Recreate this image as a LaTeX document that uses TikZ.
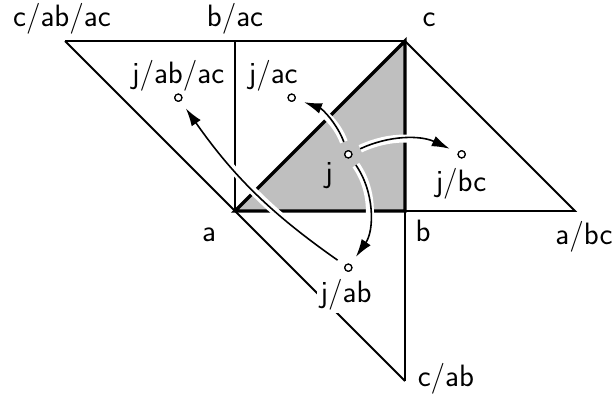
\documentclass[tikz,border=0pt]{standalone}
\usetikzlibrary{arrows.meta}
\begin{document}
\begin{tikzpicture}[x=3cm,y=3cm,
  thin edge/.style={line width=0.9pt},
  thick edge/.style={line width=1.7pt,line join=miter},
  pt/.style={circle,draw,fill=white,line width=0.6pt,inner sep=0pt,minimum size=3.6pt},
  lbl/.style={font=\sffamily\fontsize{15.5}{18}\selectfont,inner sep=0pt},
  arr/.style={line width=0.8pt,-{Latex[length=9pt,width=5.5pt]},shorten >=4.5pt,shorten <=4.5pt,
    preaction={draw=white,line width=4pt,-}}]
\useasboundingbox (-1.3824,-1.0765) rectangle (2.2294,1.2412);
% vertices
\coordinate (A) at (0,0);
\coordinate (B) at (1,0);
\coordinate (C) at (1,1);
\coordinate (BAC) at (0,1);
\coordinate (CABAC) at (-1,1);
\coordinate (ABC) at (2,0);
\coordinate (CAB) at (1,-1);
% gray triangle
\fill[gray!50] (A) -- (B) -- (C) -- cycle;
% thin edges
\draw[thin edge] (CABAC) -- (C);
\draw[thin edge] (CABAC) -- (CAB);
\draw[thin edge] (A) -- (BAC);
\draw[thin edge] (C) -- (ABC) -- (B);
\draw[thin edge] (B) -- (CAB);
% thick triangle
\draw[thick edge] (A) -- (B) -- (C) -- cycle;
% points
\node[pt] (j) at (2/3,1/3) {};
\node[pt] (jac) at (1/3,2/3) {};
\node[pt] (jbc) at (4/3,1/3) {};
\node[pt] (jab) at (2/3,-1/3) {};
\node[pt] (jabac) at (-1/3,2/3) {};
% arrows
\draw[arr] (j) to[bend right=25] (jac);
\draw[arr] (j) to[bend left=25] (jbc);
\draw[arr] (j) to[bend left=35] (jab);
\draw[arr] (jab) to[bend left=10] (jabac);
\node[pt] at (j) {};
\node[pt] at (jac) {};
\node[pt] at (jbc) {};
\node[pt] at (jab) {};
\node[pt] at (jabac) {};
% labels
\node[lbl] (lcabac) at (-1.018,1.129) {c/ab/ac};
\node[lbl] (lbac) at (0,1.129) {b/ac};
\node[lbl,anchor=base] (lc) at (1.141,1.088) {c};
\node[lbl] (ljabac) at (-0.335,0.794) {j/ab/ac};
\node[lbl] (ljac) at (0.224,0.794) {j/ac};
\node[lbl,anchor=base] (lj) at (0.553,0.165) {j};
\node[lbl] (ljbc) at (1.329,0.159) {j/bc};
\node[lbl,fill=white,inner sep=1.5pt] (ljab) at (0.653,-0.494) {j/ab};
\node[lbl,anchor=base] (la) at (-0.153,-0.182) {a};
\node[lbl,anchor=base] (lb) at (1.106,-0.182) {b};
\node[lbl] (labc) at (2.053,-0.153) {a/bc};
\node[lbl] (lcab) at (1.241,-0.985) {c/ab};
\end{tikzpicture}
\end{document}
